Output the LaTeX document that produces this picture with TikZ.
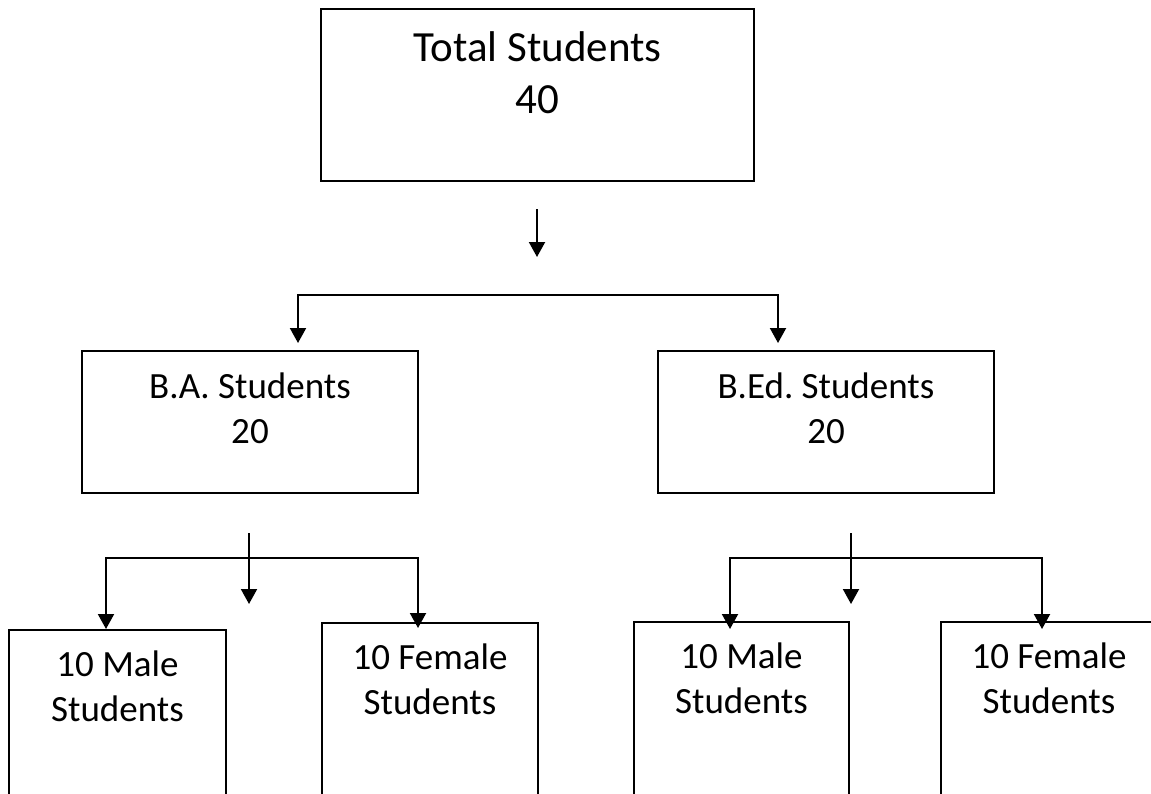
\documentclass[tikz,border=0pt]{standalone}
\usepackage{fontspec}
\setmainfont{Carlito}
\frenchspacing
\usepackage{tikz}
\usetikzlibrary{arrows.meta,positioning}
\tikzset{box/.style={draw,line width=2pt,inner sep=0pt,anchor=north west},
  big/.style={font={\fontsize{43pt}{52pt}\selectfont}},
  small/.style={font={\fontsize{37pt}{45pt}\selectfont}},
  flow/.style={line width=2pt,-{Triangle[width=16pt,length=15pt]}}}
\newcommand{\boxtext}[4]{\parbox[c][#2][t]{#1}{\centering\rule{0pt}{#3}#4}}

\begin{document}
\begin{tikzpicture}[x=1pt,y=-1pt]
  \path[use as bounding box,fill=white] (0,0) rectangle (1151,793);
  \clip (0,0) rectangle (1151,793);
  \node[box,big] (total) at (320,8) {\boxtext{433pt}{172pt}{52pt}{Total Students\\40}};
  \node[box,small] (ba) at (81,350) {\boxtext{336pt}{142pt}{47pt}{B.A. Students\\20}};
  \node[box,small] (bed) at (657,350) {\boxtext{336pt}{142pt}{47pt}{B.Ed. Students\\20}};
  \node[box,small] (m1) at (8,629) {\boxtext{217pt}{250pt}{46pt}{10 Male\\Students}};
  \node[box,small] (f1) at (321,622) {\boxtext{216pt}{250pt}{46pt}{10 Female\\Students}};
  \node[box,small] (m2) at (633,621) {\boxtext{215pt}{250pt}{46pt}{10 Male\\Students}};
  \node[box,small] (f2) at (940,621) {\boxtext{216pt}{250pt}{46pt}{10 Female\\Students}};
  \coordinate (t1) at (537,209);
  \coordinate (t2) at (537,257);
  \coordinate (fork) at (537,295);
  \draw[flow] (t1) -- (t2);
  \draw[flow] (fork) -| ([xshift=48pt,yshift=7pt]ba.north);
  \draw[flow] (fork) -| ([xshift=-48pt,yshift=7pt]bed.north);
  \coordinate (a1) at (249,533);
  \coordinate (a2) at (249,604);
  \coordinate (forkA) at (249,558);
  \draw[flow] (a1) -- (a2);
  \draw[flow] (forkA) -| ([xshift=-11.5pt]m1.north);
  \draw[flow] (forkA) -| ([xshift=-12pt,yshift=-6pt]f1.north);
  \coordinate (b1) at (851,533);
  \coordinate (b2) at (851,604);
  \coordinate (forkB) at (851,558);
  \draw[flow] (b1) -- (b2);
  \draw[flow] (forkB) -| ([xshift=-11.5pt,yshift=-8pt]m2.north);
  \draw[flow] (forkB) -| ([xshift=-7pt,yshift=-8pt]f2.north);
\end{tikzpicture}
\end{document}
